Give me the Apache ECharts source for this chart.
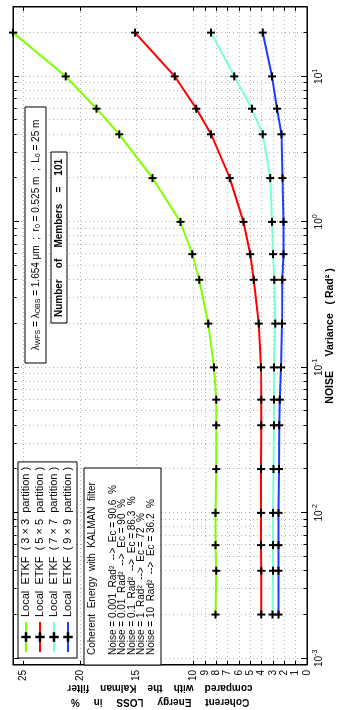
<!DOCTYPE html>
<html>
<head>
<meta charset="utf-8">
<script src="https://cdn.jsdelivr.net/npm/echarts@6/dist/echarts.min.js"></script>
<style>
  html, body { margin: 0; padding: 0; width: 338px; height: 710px; overflow: hidden; background: #fff; }
  /* the figure is drawn landscape and turned a quarter turn to the left */
  #chart { position: absolute; left: 0; top: 0; width: 710px; height: 338px;
           transform-origin: 0 0; transform: translate(0, 710px) rotate(-90deg); }
</style>
</head>
<body>
<div id="chart"></div>
<script>
// noise variance (Rad^2) for every run
const noise = [0.002, 0.004, 0.006, 0.01, 0.02, 0.04, 0.06, 0.1, 0.2, 0.4, 0.6, 1, 2, 4, 6, 10, 20];

// coherent energy loss (%) compared with the Kalman filter
const loss3x3 = [8.05, 8.0, 8.05, 8.05, 8.0, 8.0, 8.0, 8.2, 8.7, 9.5, 10.1, 11.15, 13.6, 16.55, 18.55, 21.25, 25.9];
const loss5x5 = [4.03, 4.03, 4.05, 4.05, 4.05, 4.03, 4.03, 4.05, 4.25, 4.7, 5.0, 5.6, 6.8, 8.45, 9.75, 11.65, 15.15];
const loss7x7 = [3.05, 3.0, 3.0, 3.0, 2.95, 2.9, 2.9, 2.9, 2.8, 2.88, 3.0, 3.08, 3.23, 3.9, 4.85, 6.4, 8.45];
const loss9x9 = [2.52, 2.5, 2.5, 2.5, 2.47, 2.44, 2.41, 2.3, 2.2, 2.18, 2.08, 2.08, 2.15, 2.25, 2.64, 3.08, 3.9];

const seriesNames = [
  'Local  ETKF  ( 3 × 3  partition )',
  'Local  ETKF  ( 5 × 5  partition )',
  'Local  ETKF  ( 7 × 7  partition )',
  'Local  ETKF  ( 9 × 9  partition )'
];
const seriesColors = ['#80ff00', '#ff0000', '#78ffd6', '#1f3cff'];

// ticks
const lossTicks = [0, 1, 2, 3, 4, 5, 6, 7, 8, 9, 10, 15, 20, 25];
const noiseMajor = [0.001, 0.01, 0.1, 1, 10];
const noiseMinor = [0.0009,
  0.002, 0.003, 0.004, 0.005, 0.006, 0.007, 0.008, 0.009,
  0.02, 0.03, 0.04, 0.05, 0.06, 0.07, 0.08, 0.09,
  0.2, 0.3, 0.4, 0.5, 0.6, 0.7, 0.8, 0.9,
  2, 3, 4, 5, 6, 7, 8, 9,
  20, 30];

// Kalman reference box
const kalmanTitle = 'Coherent  Energy  with  KALMAN  filter';
const kalmanLines = [
  'Noise = 0.001  Rad²  -->  Ec = 90.6  %',
  'Noise = 0.01  Rad²  -->  Ec = 90  %',
  'Noise = 0.1  Rad²  -->  Ec = 86.3  %',
  'Noise = 1  Rad²  -->  Ec = 72  %',
  'Noise = 10  Rad²  -->  Ec = 36.2  %'
];

const FONT = '"Liberation Sans", Arial, Helvetica, sans-serif';
const plus = 'path://M3,0H5V3H8V5H5V8H3V5H0V3H3Z';
const dotted = { color: '#b4b4b4', width: 1, type: [1, 3] };

const chart = echarts.init(document.getElementById('chart'), null, { width: 710, height: 338 });

const series = [loss3x3, loss5x5, loss7x7, loss9x9].map((vals, i) => ({
  name: seriesNames[i],
  type: 'line',
  data: noise.map((x, j) => [x, vals[j]]),
  symbol: plus,
  symbolSize: 8,
  showAllSymbol: true,
  itemStyle: { color: '#000' },
  lineStyle: { color: seriesColors[i], width: 2 },
  emphasis: { disabled: true },
  z: 3
}));

const logAxis = (pos, ticks, len, extra) => Object.assign({
  type: 'log',
  logBase: 10,
  min: 0.0009,
  max: 30,
  position: pos,
  axisLine: { show: false },
  axisTick: { show: true, inside: true, length: len, customValues: ticks, lineStyle: { color: '#000' } },
  axisLabel: { show: false },
  splitLine: { show: false },
  minorTick: { show: false },
  minorSplitLine: { show: false }
}, extra || {});

chart.setOption({
  animation: false,
  backgroundColor: '#fff',
  textStyle: { fontFamily: FONT },
  grid: { left: 45, right: 7, top: 13, bottom: 31, containLabel: false, outerBoundsMode: 'none',
          show: true, borderColor: '#000', borderWidth: 1 },
  legend: {
    data: seriesNames,
    orient: 'vertical',
    left: 52,
    top: 18,
    padding: [2, 5, 3, 5],
    itemWidth: 30,
    itemHeight: 12,
    itemGap: 2,
    backgroundColor: '#fff',
    borderColor: '#000',
    borderWidth: 1,
    selectedMode: false,
    textStyle: { fontSize: 11, fontFamily: FONT, color: '#000', lineHeight: 12 }
  },
  xAxis: [
    logAxis('bottom', noiseMajor, 6, {
      axisLine: { show: true, lineStyle: { color: '#000' } },
      splitLine: { show: true, lineStyle: dotted },
      axisLabel: {
        show: true,
        customValues: noiseMajor,
        margin: 5,
        color: '#000',
        formatter: (v) => '{b|10}{s|' + Math.round(Math.log10(v)) + '}',
        rich: {
          b: { fontSize: 10, fontFamily: FONT, color: '#000' },
          s: { fontSize: 7, fontFamily: FONT, color: '#000', padding: [0, 0, 8, 0] }
        }
      },
      name: 'NOISE     Variance   ( Rad² )',
      nameLocation: 'middle',
      nameGap: 18,
      nameMoveOverlap: false,
      nameTextStyle: { fontSize: 10.5, fontWeight: 'bold', color: '#000', fontFamily: FONT }
    }),
    logAxis('bottom', noiseMinor, 3.5, { splitLine: { show: true, lineStyle: dotted } }),
    logAxis('top', noiseMajor, 6, { axisLine: { show: true, lineStyle: { color: '#000' } } }),
    logAxis('top', noiseMinor, 3.5)
  ],
  yAxis: [
    {
      type: 'value',
      min: 0,
      max: 25.9,
      position: 'left',
      axisLine: { show: true, lineStyle: { color: '#000' } },
      axisTick: { show: true, inside: true, length: 4, customValues: lossTicks, lineStyle: { color: '#000' } },
      axisLabel: { customValues: lossTicks, fontSize: 10, margin: 5, color: '#000', fontFamily: FONT, hideOverlap: false },
      splitLine: { show: true, lineStyle: dotted },
      name: 'Coherent     Energy     LOSS     in     %\ncompared    with    the    Kalman    filter',
      nameLocation: 'middle',
      nameGap: 16,
      nameMoveOverlap: false,
      nameTextStyle: { fontSize: 10, fontWeight: 'bold', color: '#000', fontFamily: FONT, lineHeight: 14 }
    },
    {
      type: 'value',
      min: 0,
      max: 25.9,
      position: 'right',
      axisLine: { show: true, lineStyle: { color: '#000' } },
      axisTick: { show: true, inside: true, length: 4, customValues: lossTicks, lineStyle: { color: '#000' } },
      axisLabel: { show: false },
      splitLine: { show: false }
    }
  ],
  graphic: [
    // wavelength / seeing box
    { type: 'rect', z: 10, shape: { x: 347, y: 25, width: 256, height: 21 },
      style: { fill: '#fff', stroke: '#000', lineWidth: 1 } },
    { type: 'text', z: 11, x: 475, y: 36,
      style: {
        text: 'λ{sub|WFS} = λ{sub|OBS} = 1.654 μm  ;  r{sub|0} = 0.525 m  ;  L{sub|0} = 25 m',
        font: '10px ' + FONT, fill: '#000',
        align: 'center', verticalAlign: 'middle', textAlign: 'center', textVerticalAlign: 'middle',
        rich: { sub: { fontSize: 7, fontFamily: FONT, fill: '#000', padding: [5, 0, 0, 0] } }
      } },
    // ensemble size box
    { type: 'rect', z: 10, shape: { x: 387, y: 51, width: 171, height: 16 },
      style: { fill: '#fff', stroke: '#000', lineWidth: 1 } },
    { type: 'text', z: 11, x: 472, y: 59.5,
      style: {
        text: 'Number    of    Members    =    101',
        font: 'bold 10px ' + FONT, fill: '#000',
        align: 'center', verticalAlign: 'middle', textAlign: 'center', textVerticalAlign: 'middle'
      } },
    // Kalman reference box
    { type: 'rect', z: 10, shape: { x: 45, y: 84, width: 197, height: 77 },
      style: { fill: '#fff', stroke: '#000', lineWidth: 1 } },
    { type: 'text', z: 11, x: 55, y: 92,
      style: {
        text: kalmanTitle, font: '10px ' + FONT, fill: '#000',
        align: 'left', verticalAlign: 'middle', textAlign: 'left', textVerticalAlign: 'middle'
      } },
    { type: 'text', z: 11, x: 55, y: 108,
      style: {
        text: kalmanLines.join('\n'), font: '10px ' + FONT, fill: '#000', lineHeight: 9.6,
        align: 'left', verticalAlign: 'top', textAlign: 'left', textVerticalAlign: 'top'
      } }
  ],
  series
});
</script>
</body>
</html>
